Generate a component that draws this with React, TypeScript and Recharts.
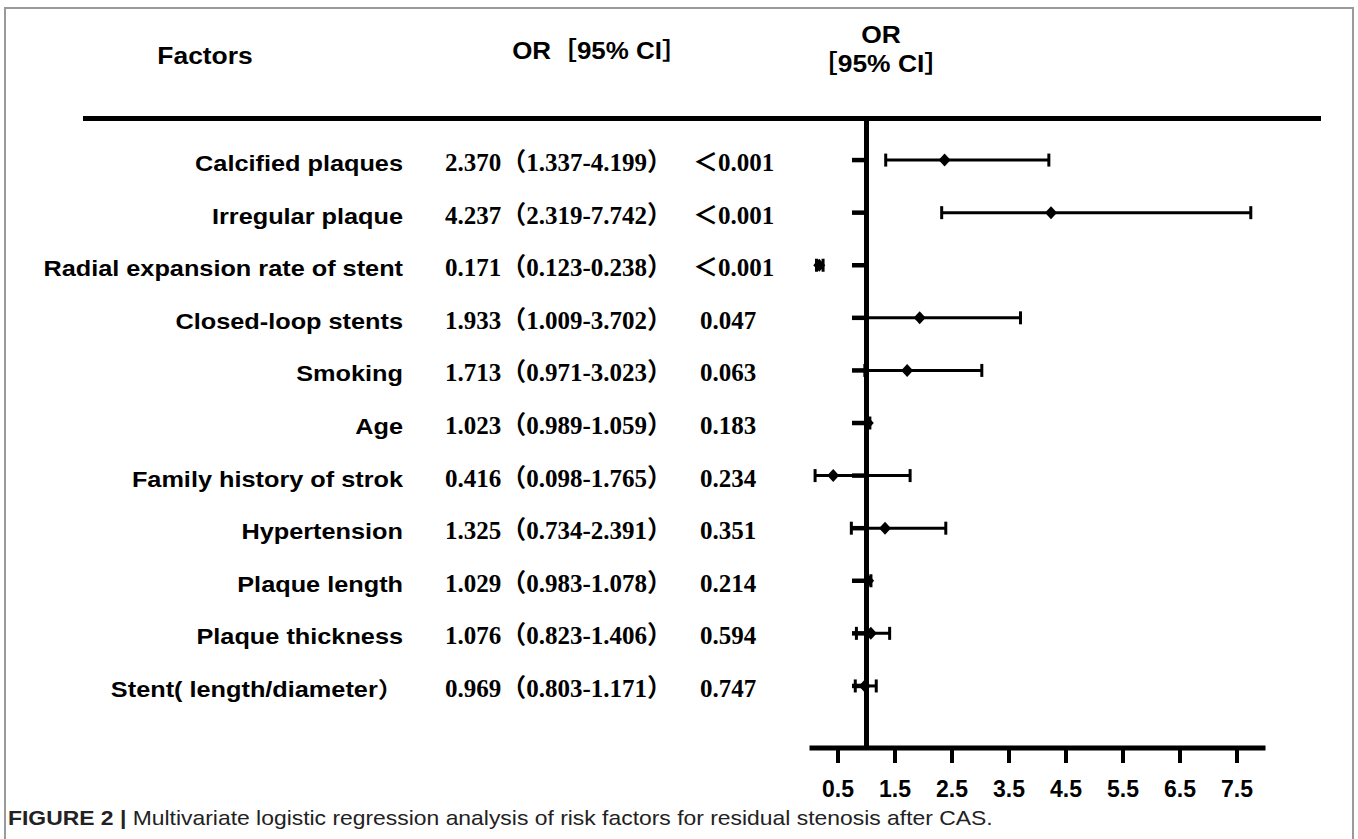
import React from 'react';
import { ScatterChart, Scatter, XAxis, YAxis, ErrorBar, ReferenceLine } from 'recharts';

const factors = [
  'Calcified plaques',
  'Irregular plaque',
  'Radial expansion rate of stent',
  'Closed-loop stents',
  'Smoking',
  'Age',
  'Family history of strok',
  'Hypertension',
  'Plaque length',
  'Plaque thickness',
  'Stent( length/diameter）',
];
const orValues = [2.37, 4.237, 0.171, 1.933, 1.713, 1.023, 0.416, 1.325, 1.029, 1.076, 0.969];
const ciLow = [1.337, 2.319, 0.123, 1.009, 0.971, 0.989, 0.098, 0.734, 0.983, 0.823, 0.803];
const ciHigh = [4.199, 7.742, 0.238, 3.702, 3.023, 1.059, 1.765, 2.391, 1.078, 1.406, 1.171];
const pValues = ['＜0.001', '＜0.001', '＜0.001', '0.047', '0.063', '0.183', '0.234', '0.351', '0.214', '0.594', '0.747'];
const xTicks = [0.5, 1.5, 2.5, 3.5, 4.5, 5.5, 6.5, 7.5];

const SANS = "'Liberation Sans', Arial, 'Noto Sans CJK SC', sans-serif";
const SERIF = "'Liberation Serif', 'Times New Roman', 'Noto Sans CJK SC', serif";

const rows = factors.map((name, i) => ({
  name,
  x: orValues[i],
  y: i,
  err: [orValues[i] - ciLow[i], ciHigh[i] - orValues[i]],
}));
// short ticks on the OR = 1 line, one per row
const refTicks = factors.map((_, i) => ({ x: 1, y: i }));

const fmt = (v: number) => v.toFixed(3);

const RowLabel = (props: any) => {
  const { y, payload } = props;
  const i = payload.value;
  if (i < 0 || i >= factors.length) return null;
  const p = pValues[i];
  return (
    <g>
      <text
        transform={`translate(403 ${y + 11}) scale(1.15 1)`}
        textAnchor="end"
        fontFamily={SANS}
        fontWeight="bold"
        fontSize={22}
        fill="#000"
      >
        {factors[i]}
      </text>
      <text x={445} y={y + 11} fontFamily={SERIF} fontWeight="bold" fontSize={25} fill="#000">
        {`${fmt(orValues[i])}（${fmt(ciLow[i])}-${fmt(ciHigh[i])}）`}
      </text>
      <text x={p.startsWith('＜') ? 693 : 700} y={y + 11} fontFamily={SERIF} fontWeight="bold" fontSize={25} fill="#000">
        {p}
      </text>
    </g>
  );
};

const Diamond = (props: any) => {
  const { cx, cy } = props;
  return <polygon points={`${cx},${cy - 6.5} ${cx + 6},${cy} ${cx},${cy + 6.5} ${cx - 6},${cy}`} fill="#000" />;
};

const RefTick = (props: any) => {
  const { cx, cy } = props;
  return <line x1={cx - 14.5} x2={cx - 1} y1={cy} y2={cy} stroke="#000" strokeWidth={4.5} />;
};

export default function App() {
  return (
    <div style={{ position: 'absolute', left: 0, top: 0, width: 1358, height: 839, overflow: 'hidden', background: '#fff' }}>
      <div
        style={{
          position: 'absolute',
          left: 4,
          top: 7,
          width: 1350,
          height: 900,
          border: '2px solid #9a9a9a',
          boxSizing: 'border-box',
        }}
      />
      <svg width={1358} height={839} style={{ position: 'absolute', left: 0, top: 0 }}>
        <g fontFamily={SANS} fontWeight="bold" fontSize={24} fill="#000" textAnchor="middle">
          <text transform="translate(205 64) scale(1.1 1)">Factors</text>
          <text transform="translate(600 59) scale(1.08 1)">OR［95% CI］</text>
          <text transform="translate(881 43) scale(1.1 1)">OR</text>
          <text transform="translate(881 72) scale(1.1 1)">［95% CI］</text>
        </g>
        <rect x={83} y={116} width={1238} height={5} fill="#000" />
      </svg>
      <div style={{ position: 'absolute', left: 0, top: 0 }}>
        <ScatterChart width={1358} height={839} margin={{ top: 118, right: 92.5, bottom: 31, left: 9.5 }}>
          <XAxis
            type="number"
            dataKey="x"
            domain={[0, 8]}
            ticks={xTicks}
            height={60}
            tickSize={15}
            tickMargin={18}
            axisLine={{ stroke: '#000', strokeWidth: 5 }}
            tickLine={{ stroke: '#000', strokeWidth: 4 }}
            tick={{ fill: '#000', fontSize: 23, fontWeight: 'bold', fontFamily: SANS }}
          />
          <YAxis
            type="number"
            dataKey="y"
            domain={[-0.8, 11.18]}
            reversed
            ticks={factors.map((_, i) => i)}
            interval={0}
            width={800}
            axisLine={false}
            tickLine={false}
            tick={<RowLabel />}
          />
          <ReferenceLine x={1} stroke="#000" strokeWidth={5} />
          <Scatter data={refTicks} shape={<RefTick />} isAnimationActive={false} />
          <Scatter data={rows} shape={<Diamond />} isAnimationActive={false}>
            <ErrorBar dataKey="err" direction="x" width={6.5} strokeWidth={3} stroke="#000" />
          </Scatter>
        </ScatterChart>
      </div>
      <div
        style={{
          position: 'absolute',
          left: 8,
          top: 806,
          fontFamily: SANS,
          fontSize: 21,
          lineHeight: '24px',
          color: '#222',
          whiteSpace: 'nowrap',
          transform: 'scaleX(1.09)',
          transformOrigin: 'left center',
        }}
      >
        <b>FIGURE 2 |</b> Multivariate logistic regression analysis of risk factors for residual stenosis after CAS.
      </div>
    </div>
  );
}
